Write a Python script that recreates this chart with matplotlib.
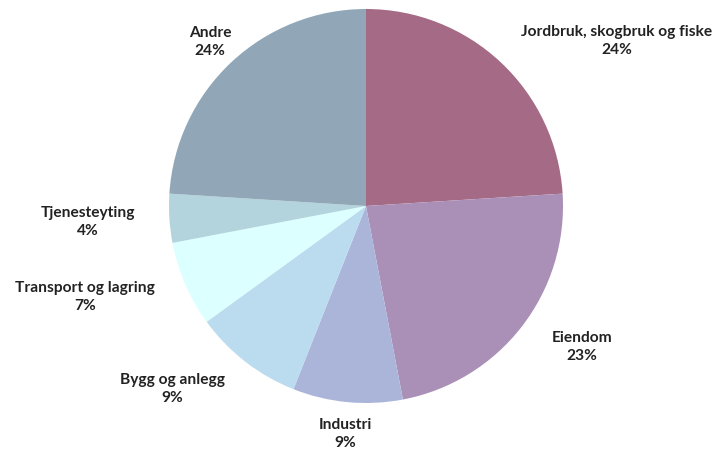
import matplotlib.pyplot as plt

labels = ["Jordbruk, skogbruk og fiske", "Eiendom", "Industri", "Bygg og anlegg",
          "Transport og lagring", "Tjenesteyting", "Andre"]
shares = [24, 23, 9, 9, 7, 4, 24]
colors = ["#A56B86", "#AA8FB7", "#AAB5D9", "#BBDCEE", "#DCFFFF", "#B4D4DD", "#91A7B7"]
# label centres in pixels (x, y from top)
label_px = [(617, 41), (582, 347), (345, 434), (172, 389), (85, 297), (88, 222), (210, 42)]

W, H = 715, 452
cx, cy, r = 366, 207, 197

fig = plt.figure(figsize=(W / 100, H / 100), dpi=100)
ax = fig.add_axes([0, 0, 1, 1])
ax.pie(shares, colors=colors, startangle=90, counterclock=False, radius=1,
       wedgeprops=dict(linewidth=0))
ax.set_xlim(-cx / r, (W - cx) / r)
ax.set_ylim(-(H - cy) / r, cy / r)
ax.set_aspect("equal")
ax.axis("off")

for lab, val, (px, py) in zip(labels, shares, label_px):
    ax.text((px - cx) / r, (cy - py) / r, f"{lab}\n{val}%", ha="center", va="center",
            fontsize=11.2, family="Lato", fontweight="bold", color="#222222",
            linespacing=1.45)

fig.savefig("out.png", dpi=100)
